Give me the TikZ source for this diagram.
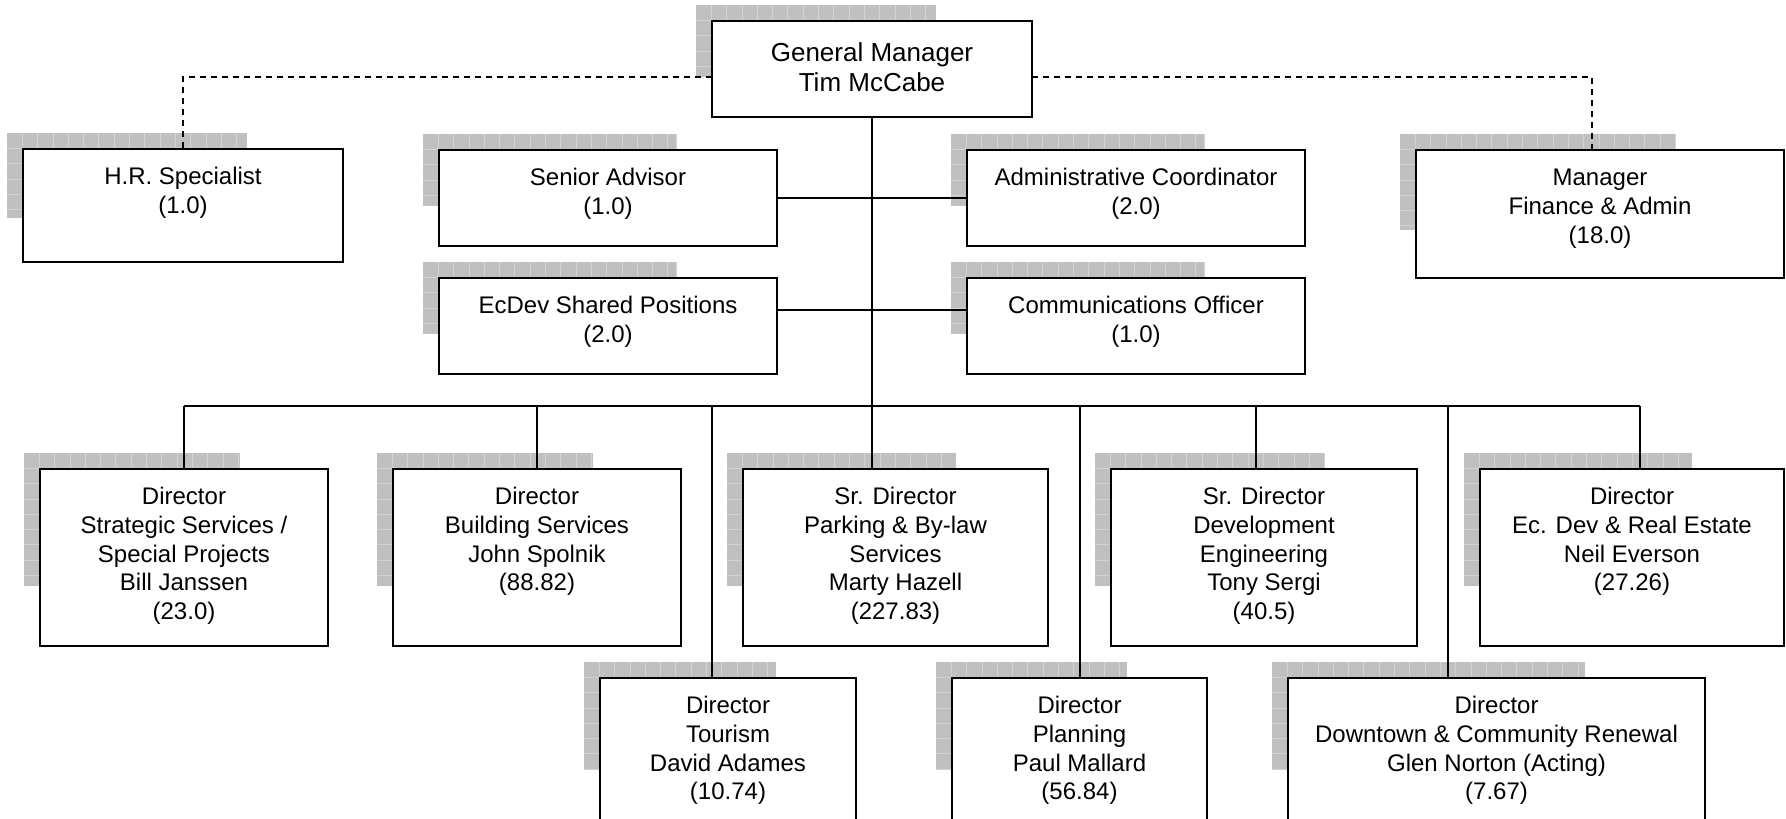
\documentclass[tikz,border=0pt]{standalone}
\usepackage{fontspec}
\setmainfont{Liberation Sans}
\usetikzlibrary{calc}
\definecolor{shfill}{RGB}{192,192,192}
\definecolor{shline}{RGB}{210,210,210}
\tikzset{
  orgbox/.style={draw=black, line width=2.2pt, fill=white, inner sep=0pt, outer sep=0pt, anchor=north west},
  orgtext/.style={anchor=north, inner sep=0pt, align=center, font=\fontsize{24}{28.7}\selectfont},
  gmtext/.style={font=\fontsize{26}{30}\selectfont, yshift=-4.7pt},
  conn/.style={line width=2pt, draw=black},
  dconn/.style={conn, dash pattern=on 6pt off 5pt},
  shgrid/.style={draw=shline, line width=0.8pt},
}
\newcommand\orgbox[7][]{%
  \pgfmathsetmacro\shW{0.75*#5}%
  \pgfmathsetmacro\shH{0.75*#6}%
  \begin{scope}
    \clip (#3-16,#4-16) rectangle ++(\shW,\shH);
    \fill[shfill] (#3-16,#4-16) rectangle ++(\shW,\shH);
    \foreach \k in {1,...,21} {\draw[shgrid] (#3-16+\k*15.3,#4-16) -- ++(0,\shH);}
    \foreach \k in {1,...,9} {\draw[shgrid] (#3-16,#4-16+\k*15.3) -- ++(\shW,0);}
  \end{scope}
  \node[orgbox, minimum width=#5pt, minimum height=#6pt] (#2) at (#3,#4) {};
  \node[orgtext,#1] (#2-t) at ($(#2.north)+(0,15.6)$) {\rule{0pt}{20pt}#7};
}
\begin{document}
\begin{tikzpicture}[x=1pt,y=-1pt]
\useasboundingbox (0,0) rectangle (1786,819);
\clip (0,0) rectangle (1786,819);
\fill[white] (0,0) rectangle (1786,819);

\orgbox[gmtext]{gm}{712}{21}{320}{96}{General Manager\\Tim McCabe}
\orgbox{hr}{23}{149}{320}{113}{H.R. Specialist\\(1.0)}
\orgbox{sa}{439}{150}{338}{96}{Senior Advisor\\(1.0)}
\orgbox{adm}{967}{150}{338}{96}{Administrative Coordinator\\(2.0)}
\orgbox{mgr}{1416}{150}{368}{128}{Manager\\Finance \& Admin\\(18.0)}
\orgbox{ecd}{439}{278}{338}{96}{EcDev Shared Positions\\(2.0)}
\orgbox{com}{967}{278}{338}{96}{Communications Officer\\(1.0)}
\orgbox{bill}{40}{469}{288}{177}{Director\\Strategic Services /\\Special Projects\\Bill Janssen\\(23.0)}
\orgbox{bld}{393}{469}{288}{177}{Director\\Building Services\\John Spolnik\\(88.82)}
\orgbox{park}{743}{469}{305}{177}{Sr. Director\\Parking \& By-law\\Services\\Marty Hazell\\(227.83)}
\orgbox{deve}{1111}{469}{306}{177}{Sr. Director\\Development\\Engineering\\Tony Sergi\\(40.5)}
\orgbox{ecre}{1480}{469}{304}{177}{Director\\Ec. Dev \& Real Estate\\Neil Everson\\(27.26)}
\orgbox{tour}{600}{678}{256}{144}{Director\\Tourism\\David Adames\\(10.74)}
\orgbox{plan}{952}{678}{255}{144}{Director\\Planning\\Paul Mallard\\(56.84)}
\orgbox{down}{1288}{678}{417}{144}{Director\\Downtown \& Community Renewal\\Glen Norton (Acting)\\(7.67)}

\coordinate (bus) at (872,406);
\coordinate (dTour) at ($(tour.north west)+(112,0)$);
\coordinate (dDeve) at ($(deve.north west)+(145,0)$);
\coordinate (dDown) at ($(down.north west)+(160,0)$);
\coordinate (dEcre) at ($(ecre.north west)+(160,0)$);
\coordinate (dMgr) at ($(mgr.north west)+(176,0)$);
\coordinate (gmL) at ($(gm.north west)+(0,56)$);
\coordinate (gmR) at ($(gm.north east)+(0,56)$);

\draw[conn] (gm.south) -- (park.north -| gm.south);
\draw[conn] (bill.north |- bus) -- (dEcre |- bus);
\draw[conn] (bill.north) -- (bill.north |- bus);
\draw[conn] (bld.north) -- (bld.north |- bus);
\draw[conn] (dTour) -- (dTour |- bus);
\draw[conn] (plan.north) -- (plan.north |- bus);
\draw[conn] (dDeve) -- (dDeve |- bus);
\draw[conn] (dDown) -- (dDown |- bus);
\draw[conn] (dEcre) -- (dEcre |- bus);
\draw[conn] (sa.east) -- (adm.west);
\draw[conn] ($(ecd.north east)+(0,32)$) -- ($(com.north west)+(0,32)$);
\draw[dconn] (gmL) -| (hr.north);
\draw[dconn] (gmR) -| (dMgr);
\end{tikzpicture}
\end{document}
